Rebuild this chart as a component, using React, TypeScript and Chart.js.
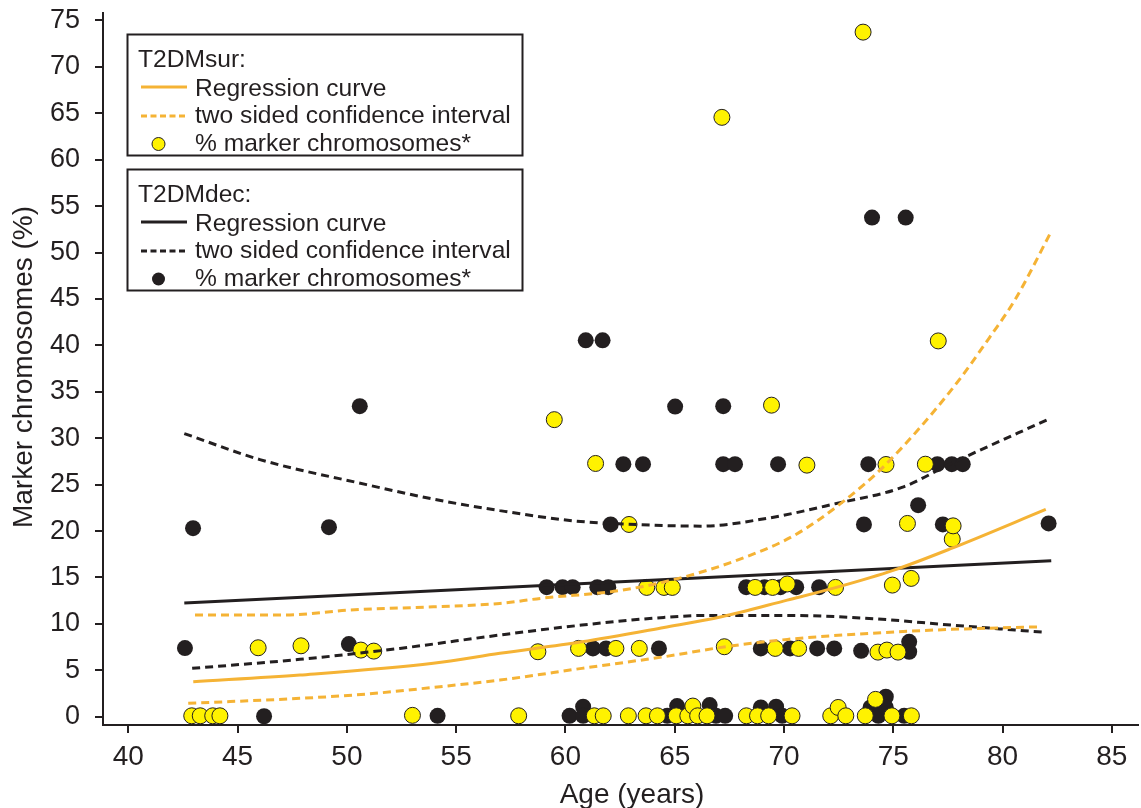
import React, { useEffect, useRef } from "react";
import { Chart, registerables } from "chart.js";

Chart.register(...registerables);

const INK = "#231F20";
const YELLOW = "#FFF200";
const ORANGE = "#F5B335";
const FONT = "'Liberation Sans', Arial, Helvetica, sans-serif";

// ---- axes ----
const xTicks = [40, 45, 50, 55, 60, 65, 70, 75, 80, 85];
const yTicks = [0, 5, 10, 15, 20, 25, 30, 35, 40, 45, 50, 55, 60, 65, 70, 75];
const xTitle = "Age (years)";
const yTitle = "Marker chromosomes (%)";

// ---- legend texts ----
const legendTitles = ["T2DMsur:", "T2DMdec:"];
const legendItems = ["Regression curve", "two sided confidence interval", "% marker chromosomes*"];

// ---- T2DMsur observations ----
const surAges = [
  42.9, 43.29, 43.86, 44.19, 45.94, 47.9, 50.64, 51.23, 53.0, 57.86, 58.74, 59.49, 60.6, 61.32, 61.38,
  61.73, 62.31, 62.88, 62.91, 63.38, 63.69, 63.72, 64.21, 64.51, 64.89, 65.07, 65.6, 65.83, 66.05, 66.48,
  67.16, 67.27, 68.28, 68.68, 68.79, 69.3, 69.43, 69.48, 69.6, 70.15, 70.37, 70.67, 71.05, 72.14, 72.36,
  72.48, 72.83, 73.62, 73.72, 74.19, 74.3, 74.67, 74.71, 74.94, 74.96, 75.22, 75.65, 75.82, 75.83, 76.47,
  77.06, 77.7, 77.74,
];
const surPct = [
  0.1, 0.1, 0.1, 0.1, 7.43, 7.64, 7.18, 7.07, 0.15, 0.1, 7.0, 32.0, 7.36, 0.1, 27.28,
  0.1, 7.36, 0.1, 20.71, 7.36, 0.1, 13.93, 0.1, 13.93, 13.93, 0.1, 0.1, 1.15, 0.1, 0.1,
  64.56, 7.54, 0.1, 13.93, 0.1, 0.1, 33.56, 13.93, 7.36, 14.3, 0.1, 7.36, 27.1, 0.1, 13.93,
  1.0, 0.1, 73.74, 0.1, 1.87, 6.96, 27.17, 7.18, 0.1, 14.18, 6.96, 20.82, 14.9, 0.1, 27.2,
  40.48, 19.13, 20.56,
];

// ---- T2DMdec observations ----
const decAges = [
  42.59, 42.96, 46.21, 49.18, 50.09, 50.59, 54.15, 59.14, 59.87, 60.19, 60.33, 60.81, 60.81, 60.93, 61.26,
  61.46, 61.7, 61.86, 61.96, 62.07, 62.65, 63.55, 64.28, 64.66, 65.02, 65.11, 66.6, 66.89, 67.22, 67.22,
  67.31, 67.76, 68.27, 68.94, 68.94, 69.11, 69.64, 69.73, 69.84, 69.92, 70.28, 70.56, 71.52, 71.61, 72.3,
  73.53, 73.66, 73.86, 73.96, 74.03, 74.32, 74.66, 74.66, 75.5, 75.57, 75.73, 75.73, 76.14, 77.02, 77.27,
  77.68, 78.18, 82.11,
];
const decPct = [
  7.4, 20.31, 0.05, 20.42, 7.83, 33.45, 0.1, 13.96, 13.96, 0.1, 13.96, 1.08, 0.1, 40.54, 7.36,
  13.96, 40.54, 7.36, 13.96, 20.71, 27.2, 27.2, 7.36, 0.1, 33.41, 1.15, 1.26, 0.1, 33.45, 27.2,
  0.1, 27.2, 13.96, 7.36, 1.0, 13.96, 1.08, 27.2, 13.96, 0.1, 7.36, 13.96, 7.36, 13.96, 7.36,
  7.1, 20.71, 27.2, 1.0, 53.76, 0.1, 2.15, 1.0, 0.1, 53.76, 8.07, 7.0, 22.79, 27.2, 20.71,
  27.2, 27.2, 20.82,
];

// ---- fitted curves ----
const surRegAges = [42.97, 47.85, 53.95, 57.0, 60.75, 64.51, 67.14, 70.15, 72.4, 75.03, 77.66, 81.98];
const surRegPct = [3.77, 4.49, 5.75, 6.83, 8.07, 9.62, 10.77, 12.56, 13.93, 15.79, 18.13, 22.33];

const surUpperAges = [43.05, 47.09, 50.14, 53.95, 57.0, 58.86, 62.62, 65.45, 68.27, 70.52, 72.78, 74.67, 77.66, 79.54, 80.57, 82.26];
const surUpperPct = [10.95, 10.95, 11.49, 11.84, 12.2, 12.75, 13.64, 15.07, 17.22, 19.6, 23.3, 27.2, 35.2, 41.3, 44.9, 52.4];

const surLowerAges = [42.74, 47.85, 50.9, 53.95, 57.0, 60.75, 64.51, 67.33, 70.15, 73.9, 77.66, 81.79];
const surLowerPct = [1.44, 1.98, 2.44, 3.16, 3.95, 5.21, 6.46, 7.54, 8.33, 8.98, 9.41, 9.69];

const decRegAges = [42.56, 82.23];
const decRegPct = [12.25, 16.8];

const decUpperAges = [42.56, 46.02, 50.9, 53.95, 57.0, 60.38, 62.82, 66.2, 69.2, 72.4, 75.4, 77.66, 82.17];
const decUpperPct = [30.5, 27.7, 25.0, 23.44, 22.2, 21.1, 20.75, 20.53, 21.36, 22.97, 24.7, 27.28, 32.12];

const decLowerAges = [42.92, 47.85, 52.42, 57.0, 60.75, 64.51, 66.39, 70.15, 73.9, 77.66, 81.98];
const decLowerPct = [5.21, 6.18, 7.36, 8.8, 9.87, 10.7, 10.91, 10.91, 10.59, 9.87, 9.08];

const toXY = (xs: number[], ys: number[]) => xs.map((x, i) => ({ x, y: ys[i] }));

const DASH = [8, 5];

function curve(label: string, xs: number[], ys: number[], color: string, dashed: boolean) {
  return {
    label,
    data: toXY(xs, ys),
    showLine: true,
    borderColor: color,
    borderWidth: 3,
    borderDash: dashed ? DASH : [],
    pointRadius: 0,
    fill: false,
    cubicInterpolationMode: "monotone" as const,
    order: 1,
  };
}

const decorPlugin = {
  id: "decor",
  afterDraw(chart: any) {
    const ctx = chart.ctx as CanvasRenderingContext2D;
    ctx.save();
    // axis titles
    ctx.fillStyle = INK;
    ctx.font = `28px ${FONT}`;
    ctx.textAlign = "center";
    ctx.textBaseline = "alphabetic";
    ctx.fillText(xTitle, 632, 802.5);
    ctx.save();
    ctx.translate(31.5, 367);
    ctx.rotate(-Math.PI / 2);
    ctx.fillText(yTitle, 0, 0);
    ctx.restore();

    // legend boxes
    const boxTops = [34.5, 169.5];
    const rowOffsets = [32, 61, 88.5, 116];
    boxTops.forEach((top, g) => {
      ctx.strokeStyle = INK;
      ctx.lineWidth = 2;
      ctx.setLineDash([]);
      ctx.strokeRect(127.5, top, 395, 121);
      ctx.fillStyle = INK;
      ctx.font = `24.6px ${FONT}`;
      ctx.textAlign = "left";
      ctx.textBaseline = "alphabetic";
      ctx.fillText(legendTitles[g], 138, top + rowOffsets[0]);
      legendItems.forEach((t, i) => {
        ctx.fillText(t, 195, top + rowOffsets[i + 1]);
      });
      const color = g === 0 ? ORANGE : INK;
      ctx.strokeStyle = color;
      ctx.lineWidth = 3;
      ctx.beginPath();
      ctx.moveTo(141, top + rowOffsets[1] - 8.5);
      ctx.lineTo(187, top + rowOffsets[1] - 8.5);
      ctx.stroke();
      ctx.setLineDash([6, 3.5]);
      ctx.beginPath();
      ctx.moveTo(141, top + rowOffsets[2] - 7);
      ctx.lineTo(187, top + rowOffsets[2] - 7);
      ctx.stroke();
      ctx.setLineDash([]);
      ctx.beginPath();
      ctx.arc(158.5, top + rowOffsets[3] - 6.5, 6.5, 0, Math.PI * 2);
      ctx.fillStyle = g === 0 ? YELLOW : INK;
      ctx.fill();
      if (g === 0) {
        ctx.strokeStyle = INK;
        ctx.lineWidth = 1;
        ctx.stroke();
      }
    });
    ctx.restore();
  },
};

export default function App() {
  const ref = useRef<HTMLCanvasElement | null>(null);
  useEffect(() => {
    document.body.style.margin = "0";
    if (!ref.current) return;
    const chart = new Chart(ref.current, {
      type: "scatter",
      data: {
        datasets: [
          curve("T2DMsur regression", surRegAges, surRegPct, ORANGE, false),
          curve("T2DMsur CI upper", surUpperAges, surUpperPct, ORANGE, true),
          curve("T2DMsur CI lower", surLowerAges, surLowerPct, ORANGE, true),
          curve("T2DMdec regression", decRegAges, decRegPct, INK, false),
          curve("T2DMdec CI upper", decUpperAges, decUpperPct, INK, true),
          curve("T2DMdec CI lower", decLowerAges, decLowerPct, INK, true),
          {
            label: "T2DMsur % marker chromosomes",
            data: toXY(surAges, surPct),
            pointRadius: 8,
            pointBackgroundColor: YELLOW,
            pointBorderColor: INK,
            pointBorderWidth: 1,
            showLine: false,
            order: 2,
          },
          {
            label: "T2DMdec % marker chromosomes",
            data: toXY(decAges, decPct),
            pointRadius: 8,
            pointBackgroundColor: INK,
            pointBorderColor: INK,
            pointBorderWidth: 0,
            showLine: false,
            order: 3,
          },
        ] as any,
      },
      options: {
        animation: false,
        responsive: false,
        events: [],
        layout: { autoPadding: false, padding: { left: 0, right: 3, top: 13, bottom: 0 } },
        plugins: {
          legend: { display: false },
          tooltip: { enabled: false },
          title: { display: false },
        },
        scales: {
          x: {
            type: "linear",
            min: 38.84,
            max: 86.2,
            afterBuildTicks: (s: any) => {
              s.ticks = xTicks.map((v) => ({ value: v }));
            },
            afterFit: (s: any) => {
              s.height = 83;
              s.paddingLeft = 0;
              s.paddingRight = 0;
            },
            grid: { display: true, drawOnChartArea: false, drawTicks: true, tickLength: 8, color: INK, lineWidth: 2 },
            border: { display: true, color: INK, width: 2 },
            ticks: {
              color: INK,
              font: { family: FONT, size: 28 },
              padding: 7,
              maxRotation: 0,
              autoSkip: false,
              callback: (v: any) => String(v),
            },
          },
          y: {
            type: "linear",
            min: -0.89,
            max: 75.8,
            afterBuildTicks: (s: any) => {
              s.ticks = yTicks.map((v) => ({ value: v }));
            },
            afterFit: (s: any) => {
              s.width = 103;
              s.paddingTop = 0;
              s.paddingBottom = 0;
            },
            grid: { display: true, drawOnChartArea: false, drawTicks: true, tickLength: 8, color: INK, lineWidth: 2 },
            border: { display: true, color: INK, width: 2 },
            ticks: {
              color: INK,
              font: { family: FONT, size: 27 },
              padding: 15,
              autoSkip: false,
              callback: (v: any) => String(v),
            },
          },
        },
      } as any,
      plugins: [decorPlugin],
    });
    return () => chart.destroy();
  }, []);
  return <canvas ref={ref} width={1141} height={808} style={{ display: "block" }} />;
}
